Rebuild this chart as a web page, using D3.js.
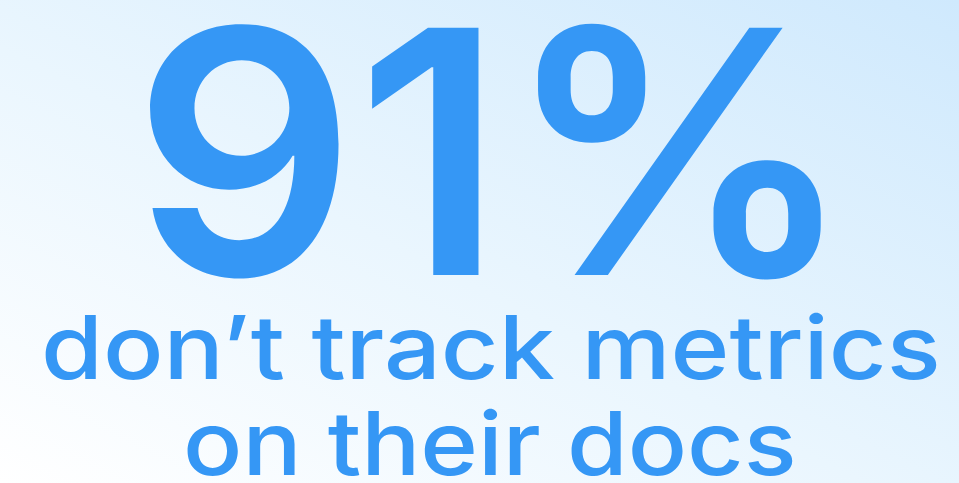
<!DOCTYPE html>
<html>
<head>
<meta charset="utf-8">
<script src="https://cdn.jsdelivr.net/npm/d3@7"></script>
<style>
  html, body { margin: 0; padding: 0; overflow: hidden; }
  svg { display: block; }
</style>
</head>
<body>
<script>
// ---- data ----
const statValue = [91];
const statSuffix = ["%"];
const captionLines = ["don’t track metrics", "on their docs"];

// ---- layout ----
const W = 959, H = 483;
const textColor = "#3597f5";
const fontFamily = "Inter, 'Open Sans', 'DejaVu Sans', sans-serif";

// target ink boxes [left, right, top, baseline]
const boxes = [
  { weight: 600, box: [150, 822, 20, 275] },
  { weight: 500, box: [45, 937, 312, 379] },
  { weight: 500, box: [187, 793, 408, 475] }
];

const texts = [statValue[0] + statSuffix[0], ...captionLines];

const svg = d3.select("body").append("svg")
  .attr("width", W).attr("height", H);

const defs = svg.append("defs");
const grad = defs.append("linearGradient")
  .attr("id", "bg").attr("x1", "0").attr("y1", "1").attr("x2", "1").attr("y2", "0");
grad.append("stop").attr("offset", "0%").attr("stop-color", "#ffffff");
grad.append("stop").attr("offset", "45%").attr("stop-color", "#eaf6fe");
grad.append("stop").attr("offset", "100%").attr("stop-color", "#cfe9fd");

svg.append("rect").attr("width", W).attr("height", H).attr("fill", "url(#bg)");

const ctx = document.createElement("canvas").getContext("2d");
const baseSize = 100;

function fit(sel, str, cfg) {
  ctx.font = `${cfg.weight} ${baseSize}px ${fontFamily}`;
  const m = ctx.measureText(str);
  const inkL = -m.actualBoundingBoxLeft;
  const inkR = m.actualBoundingBoxRight;
  const inkA = m.actualBoundingBoxAscent;
  const [l, r, t, b] = cfg.box;
  const sx = (r - l) / (inkR - inkL);
  const sy = (b - t) / inkA;
  sel.attr("transform", `translate(${l - inkL * sx},${b}) scale(${sx},${sy})`);
}

const g = svg.append("g");
g.selectAll("text").data(texts).join("text")
  .text(d => d)
  .attr("x", 0).attr("y", 0)
  .attr("fill", textColor)
  .style("font-family", fontFamily)
  .style("font-size", baseSize + "px")
  .style("font-weight", (d, i) => boxes[i].weight)
  .each(function(d, i) { fit(d3.select(this), d, boxes[i]); });
</script>
</body>
</html>
